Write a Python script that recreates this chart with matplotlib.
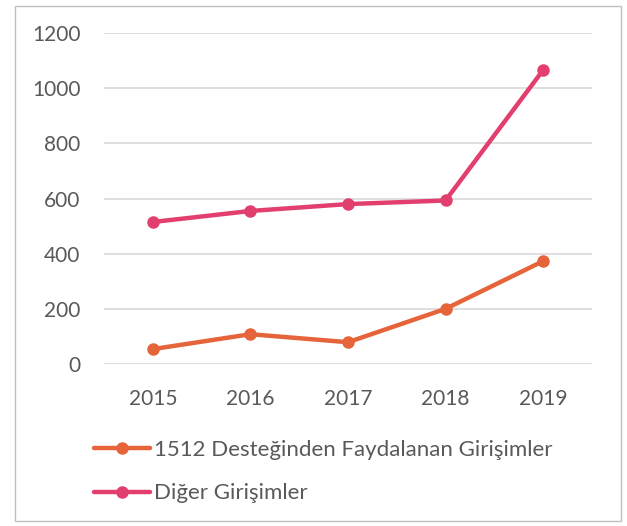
import matplotlib
matplotlib.use("Agg")
import matplotlib.pyplot as plt
from matplotlib.patches import Rectangle

years = ["2015", "2016", "2017", "2018", "2019"]
destek_1512 = [54, 108, 79, 200, 373]
diger = [515, 555, 580, 593, 1066]
series_names = ["1512 Desteğinden Faydalanan Girişimler", "Diğer Girişimler"]
y_ticks = [0, 200, 400, 600, 800, 1000, 1200]

ORANGE = "#E6643A"
PINK = "#E23F6F"
TEXT = "#595959"

plt.rcParams["font.family"] = ["Lato", "DejaVu Sans"]

fig = plt.figure(figsize=(6.27, 5.26), dpi=100)
ax = fig.add_axes([0.166, 0.308, 0.778, 0.629])

x = range(len(years))
ax.plot(x, destek_1512, color=ORANGE, lw=3.2, marker="o", ms=8,
        solid_capstyle="round", label=series_names[0])
ax.plot(x, diger, color=PINK, lw=3.2, marker="o", ms=8,
        solid_capstyle="round", label=series_names[1])

ax.set_xlim(-0.5, len(years) - 0.5)
ax.set_ylim(0, 1200)
ax.set_yticks(y_ticks)
ax.set_xticks(list(x))
ax.set_xticklabels(years)
ax.grid(axis="y", color="#D9D9D9", lw=1.2)
ax.set_axisbelow(True)
for s in ax.spines.values():
    s.set_visible(False)
ax.tick_params(length=0, labelsize=15, colors=TEXT)
ax.tick_params(axis="y", pad=17)
ax.tick_params(axis="x", pad=18)

fig.legend(loc="upper left", bbox_to_anchor=(0.15, 1 - 440 / 526), frameon=False,
           fontsize=16, labelcolor=TEXT, handlelength=2.5, handletextpad=0.2,
           labelspacing=1.05, borderaxespad=0, borderpad=0)

fig.patches.append(Rectangle((0.024, 0.009), 0.966, 0.98, transform=fig.transFigure,
                             fill=False, edgecolor="#BFBFBF", lw=1.0))

fig.savefig("out.png", dpi=100)
